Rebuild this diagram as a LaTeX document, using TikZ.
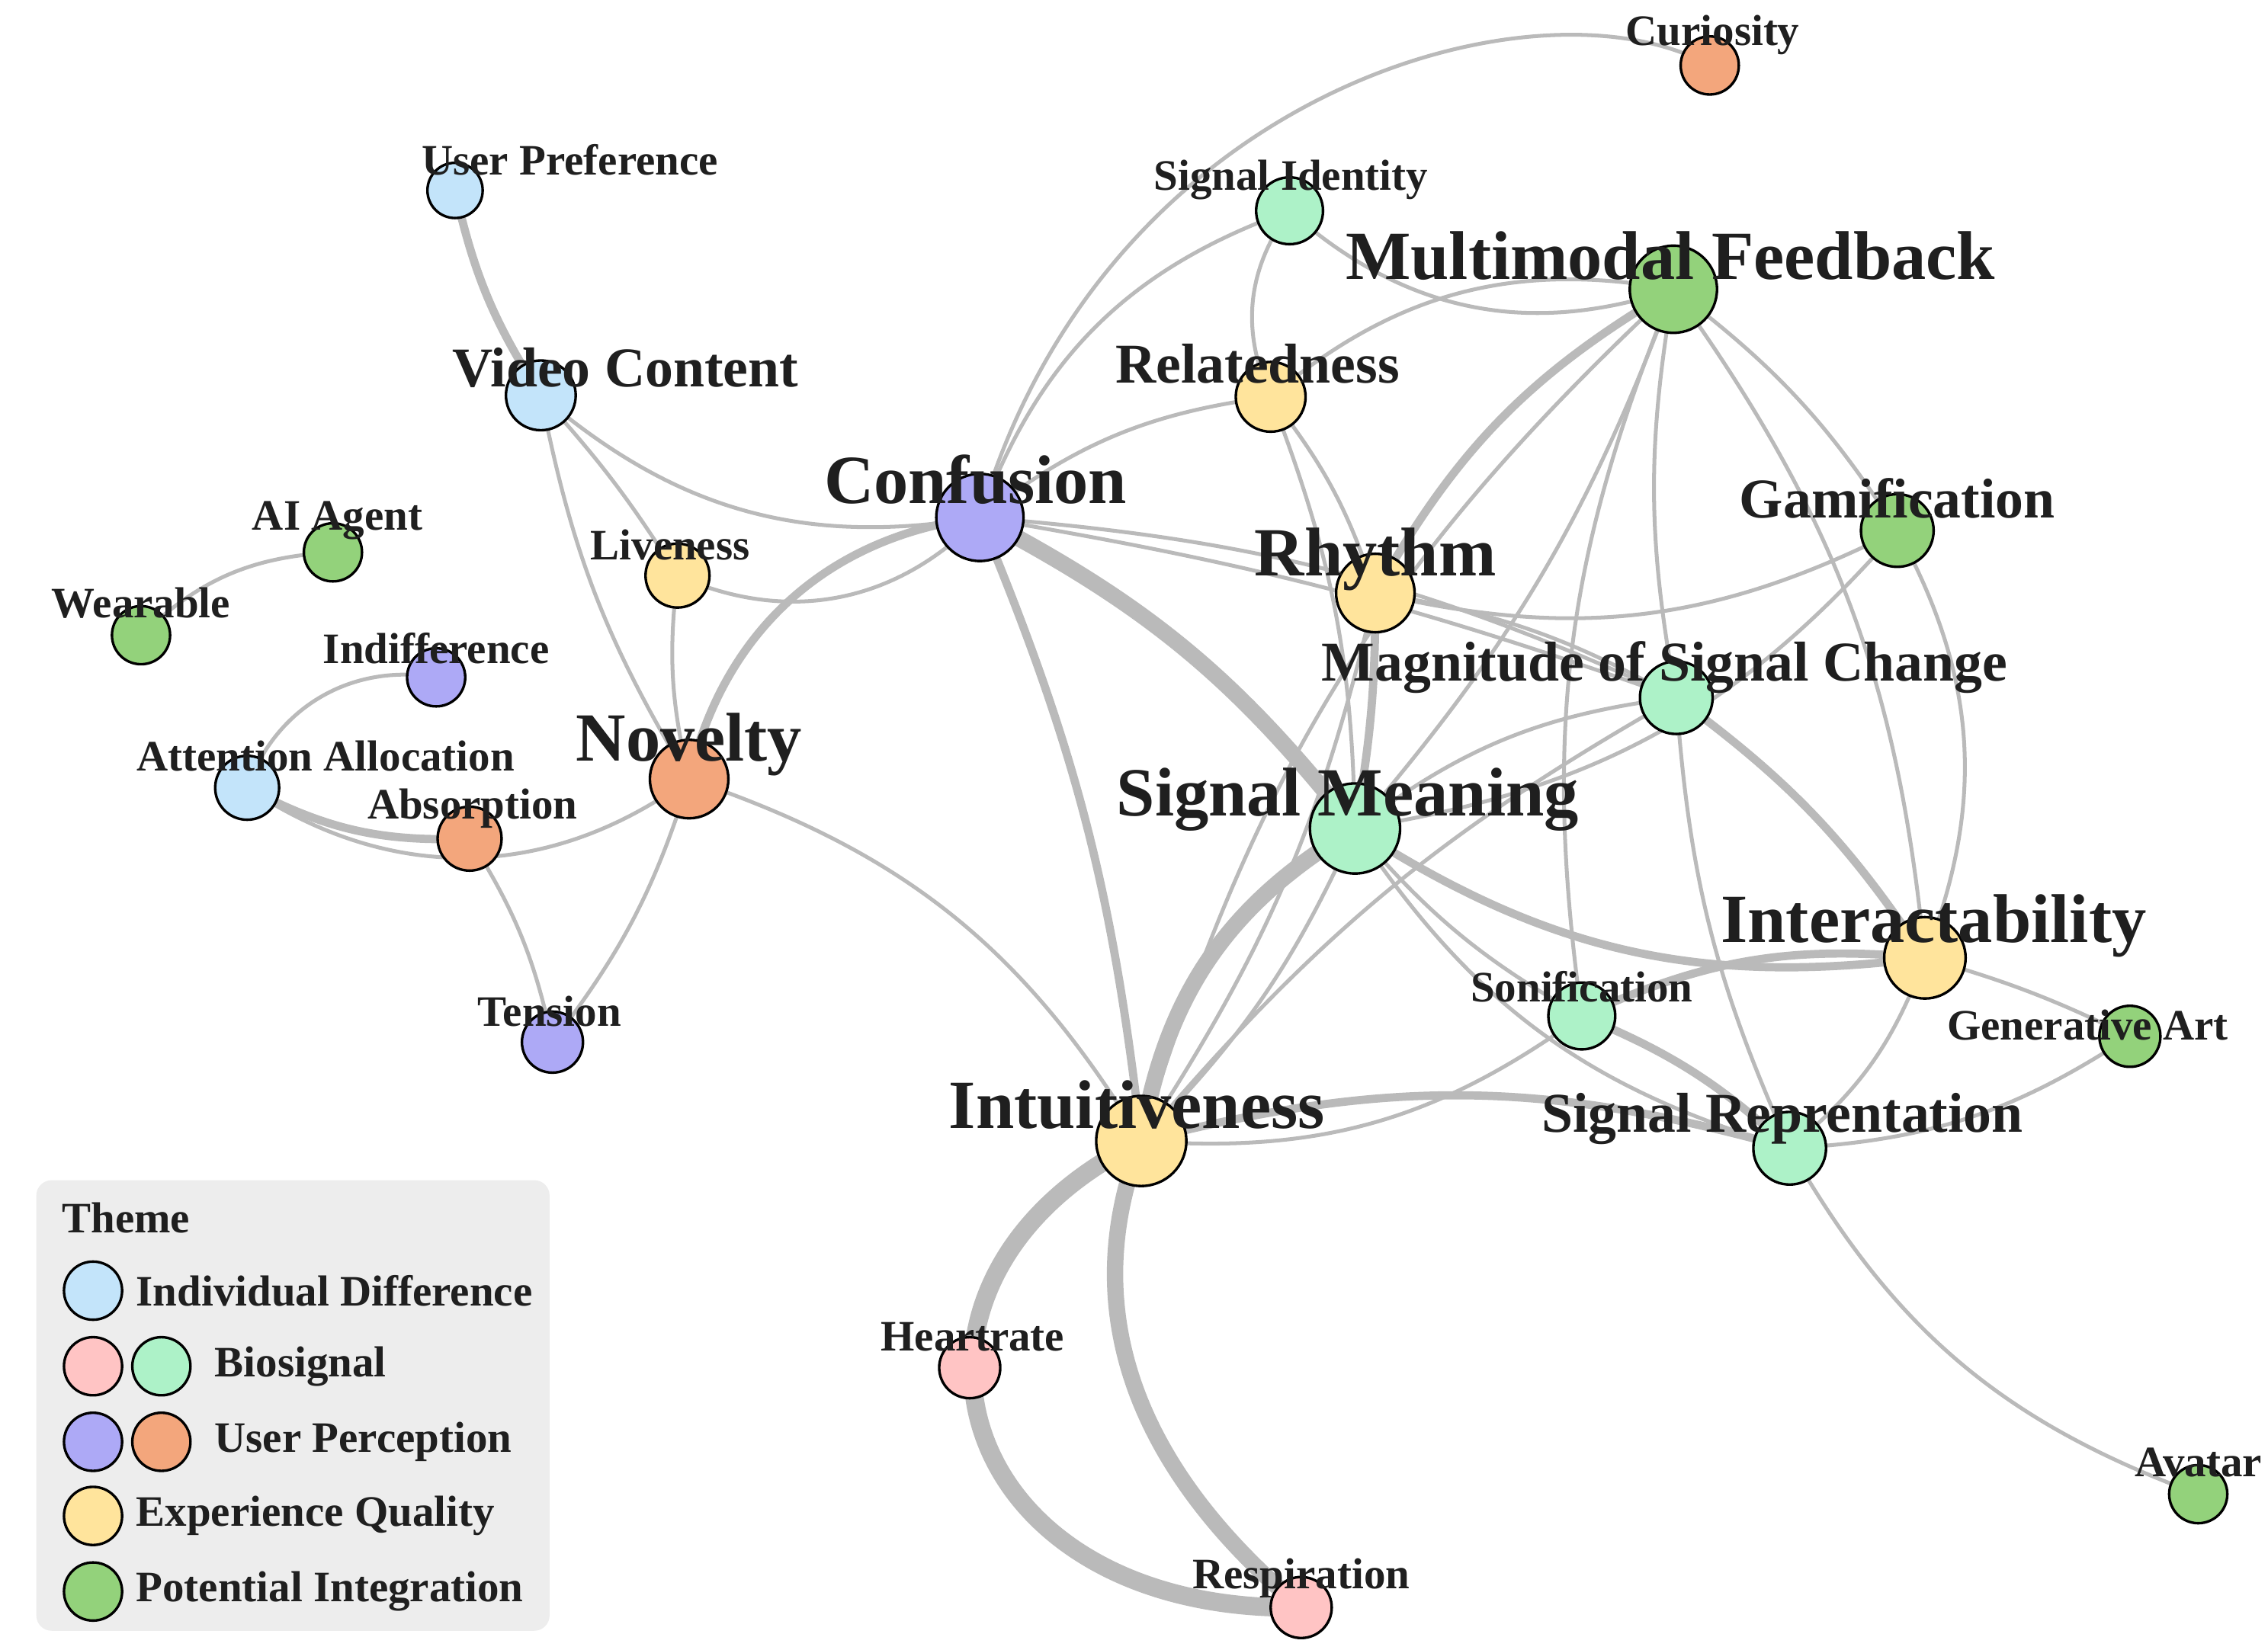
\documentclass[tikz,border=0pt]{standalone}
\usepackage{fontspec}
\setmainfont{Liberation Serif}
\begin{document}
\begin{tikzpicture}[x=0.1mm,y=-0.1mm,
 n/.style={circle,draw=black,line width=0.5pt,inner sep=0pt},
 e/.style={draw=black!27,line width=0.75pt},
 m/.style={draw=black!27,line width=1.6pt},
 t/.style={draw=black!27,line width=3.2pt},
 big/.style={font=\bfseries\fontsize{13.5}{13.5}\selectfont,text=black!88},
 mid/.style={font=\bfseries\fontsize{11}{11}\selectfont,text=black!88},
 sml/.style={font=\bfseries\fontsize{8.5}{8.5}\selectfont,text=black!88}]
\definecolor{cb}{HTML}{C3E4FA}\definecolor{cp}{HTML}{FFC4C4}\definecolor{cm}{HTML}{ADF2C8}
\definecolor{cv}{HTML}{ADA9F6}\definecolor{co}{HTML}{F3A67C}\definecolor{cy}{HTML}{FFE49C}
\definecolor{cg}{HTML}{93D27B}
\useasboundingbox (0,0) rectangle (1560,1135);
\fill[white] (0,0) rectangle (1560,1135);
\foreach \nm/\x/\y in {up/313/131,vc/372/272,ai/229/380,we/97/437,in/300/466,aa/170/542,ab/323/577,no/474/536,te/380/717,li/466/396,cf/674/356,re/874/273,si/887/145,cu/1176/45,mf/1151/199,ga/1305/365,rh/946/408,ms/1153/480,sm/932/570,ia/1324/659,so/1088/699,gen/1465/713,iu/785/785,sr/1231/790,hr/667/941,rs/895/1106,av/1512/1028}
  \coordinate (\nm) at (\x,\y);
% edges
\draw[m] (up) to[bend right=10] (vc);
\draw[e] (vc) to[bend right=25] (cf);
\draw[e] (vc) to[bend left=5] (li);
\draw[e] (vc) to[bend right=10] (no);
\draw[e] (ai) to[bend right=20] (we);
\draw[e] (in) to[bend right=40] (aa);
\draw[m] (aa) to[bend right=15] (ab);
\draw[e] (aa) to[bend right=35] (no);
\draw[e] (ab) to[bend left=10] (te);
\draw[e] (no) to[bend left=10] (te);
\draw[e] (no) to[bend left=10] (li);
\draw[m] (no) to[bend left=35] (cf);
\draw[e] (no) to[bend left=20] (iu);
\draw[e] (li) to[bend right=35] (cf);
\draw[e] (cf) to[bend left=25] (si);
\draw[e] (cf) to[bend left=15] (re);
\draw[e] (cf) .. controls (760,60) and (1060,-20) .. (cu);
\draw[t] (cf) to[bend left=12] (sm);
\draw[m] (cf) to[bend left=8] (iu);
\draw[e] (cf) to[bend left=10] (ms);
\draw[e] (cf) to[bend left=5] (ms);
\draw[e] (si) to[bend right=30] (mf);
\draw[e] (si) to[bend right=30] (re);
\draw[e] (re) to[bend left=25] (mf);
\draw[e] (re) to[bend left=10] (sm);
\draw[e] (re) to[bend left=10] (rh);
\draw[m] (mf) to[bend right=15] (rh);
\draw[e] (mf) to[bend left=10] (sm);
\draw[e] (mf) to[bend left=10] (ga);
\draw[e] (mf) to[bend left=15] (ia);
\draw[e] (mf) to[bend right=10] (ms);
\draw[e] (mf) to[bend right=15] (so);
\draw[e] (mf) to[bend right=15] (iu);
\draw[e] (rh) to[bend right=20] (ga);
\draw[e] (rh) to[bend left=10] (ms);
\draw[m] (rh) to[bend left=5] (sm);
\draw[e] (rh) to[bend left=10] (iu);
\draw[e] (ga) to[bend left=20] (sm);
\draw[e] (ga) to[bend left=25] (ia);
\draw[e] (ms) to[bend right=15] (sm);
\draw[m] (ms) to[bend left=10] (ia);
\draw[e] (ms) to[bend right=10] (iu);
\draw[e] (ms) to[bend right=10] (sr);
\draw[t] (sm) to[bend right=25] (iu);
\draw[e] (sm) to[bend left=10] (iu);
\draw[m] (sm) to[bend right=20] (ia);
\draw[e] (sm) to[bend right=10] (so);
\draw[e] (sm) to[bend right=20] (sr);
\draw[e] (iu) to[bend right=20] (so);
\draw[m] (iu) to[bend left=15] (sr);
\draw[t,line width=3.6pt] (iu) .. controls (590,880) and (650,1110) .. (rs);
\draw[t] (iu) .. controls (740,900) and (780,1010) .. (rs);
\draw[m] (so) to[bend left=15] (ia);
\draw[m] (so) to[bend left=10] (sr);
\draw[e] (ia) to[bend left=15] (sr);
\draw[e] (ia) to[bend left=5] (gen);
\draw[e] (sr) to[bend right=15] (gen);
\draw[e] (sr) to[bend right=20] (av);
% circles
\foreach \nm/\c/\s in {up/cb/38,vc/cb/48,ai/cg/40,we/cg/40,in/cv/40,aa/cb/44,ab/co/44,no/co/54,te/cv/42,li/cy/44,cf/cv/60,re/cy/48,si/cm/46,cu/co/40,mf/cg/60,ga/cg/50,rh/cy/54,ms/cm/50,sm/cm/62,ia/cy/56,so/cm/46,gen/cg/42,iu/cy/62,sr/cm/50,hr/cp/42,rs/cp/42,av/cg/40}
  \node[n,fill=\c,minimum size=\s*0.1mm] (\nm c) at (\nm) {};
% labels
\node[sml] (lup) at (392,110) {User Preference};
\node[mid] (lvc) at (430,253) {Video Content};
\node[sml] (lai) at (232,358) {AI Agent};
\node[sml] (lwe) at (97,415) {Wearable};
\node[sml] (lin) at (300,446) {Indifference};
\node[sml] (laa) at (224,520) {Attention Allocation};
\node[sml] (lab) at (325,556) {Absorption};
\node[big] (lno) at (474,512) {Novelty};
\node[sml] (lte) at (378,696) {Tension};
\node[sml] (lli) at (461,375) {Liveness};
\node[big] (lcf) at (671,330) {Confusion};
\node[mid] (lre) at (865,250) {Relatedness};
\node[sml] (lsi) at (888,124) {Signal Identity};
\node[sml] (lcu) at (1178,24) {Curiosity};
\node[big] (lmf) at (1149,176) {Multimodal Feedback};
\node[mid] (lga) at (1305,343) {Gamification};
\node[big] (lrh) at (946,385) {Rhythm};
\node[mid] (lms) at (1145,459) {Magnitude of Signal Change};
\node[big] (lsm) at (927,550) {Signal Meaning};
\node[big] (lia) at (1330,637) {Interactability};
\node[sml] (lso) at (1088,679) {Sonification};
\node[sml] (lgen) at (1436,705) {Generative Art};
\node[big] (liu) at (782,760) {Intuitiveness};
\node[mid] (lsr) at (1226,770) {Signal Reprentation};
\node[sml] (lhr) at (669,920) {Heartrate};
\node[sml] (lrs) at (895,1086) {Respiration};
\node[sml] (lav) at (1512,1006) {Avatar};
% legend
\fill[black!7,rounded corners=3pt] (25,812) rectangle (378,1122);
\node[sml,anchor=west,inner sep=0pt] (lt) at (42,838) {Theme};
\node[n,fill=cb,minimum size=4mm] (k1) at (64,888) {};
\node[sml,anchor=west,inner sep=0pt] (t1) at (93,888) {Individual Difference};
\node[n,fill=cp,minimum size=4mm] (k2) at (64,940) {};
\node[n,fill=cm,minimum size=4mm] (k2b) at (111,940) {};
\node[sml,anchor=west,inner sep=0pt] (t2) at (147,940) {Biosignal};
\node[n,fill=cv,minimum size=4mm] (k3) at (64,992) {};
\node[n,fill=co,minimum size=4mm] (k3b) at (111,992) {};
\node[sml,anchor=west,inner sep=0pt] (t3) at (147,992) {User Perception};
\node[n,fill=cy,minimum size=4mm] (k4) at (64,1043) {};
\node[sml,anchor=west,inner sep=0pt] (t4) at (93,1043) {Experience Quality};
\node[n,fill=cg,minimum size=4mm] (k5) at (64,1095) {};
\node[sml,anchor=west,inner sep=0pt] (t5) at (93,1095) {Potential Integration};
\end{tikzpicture}
\end{document}
